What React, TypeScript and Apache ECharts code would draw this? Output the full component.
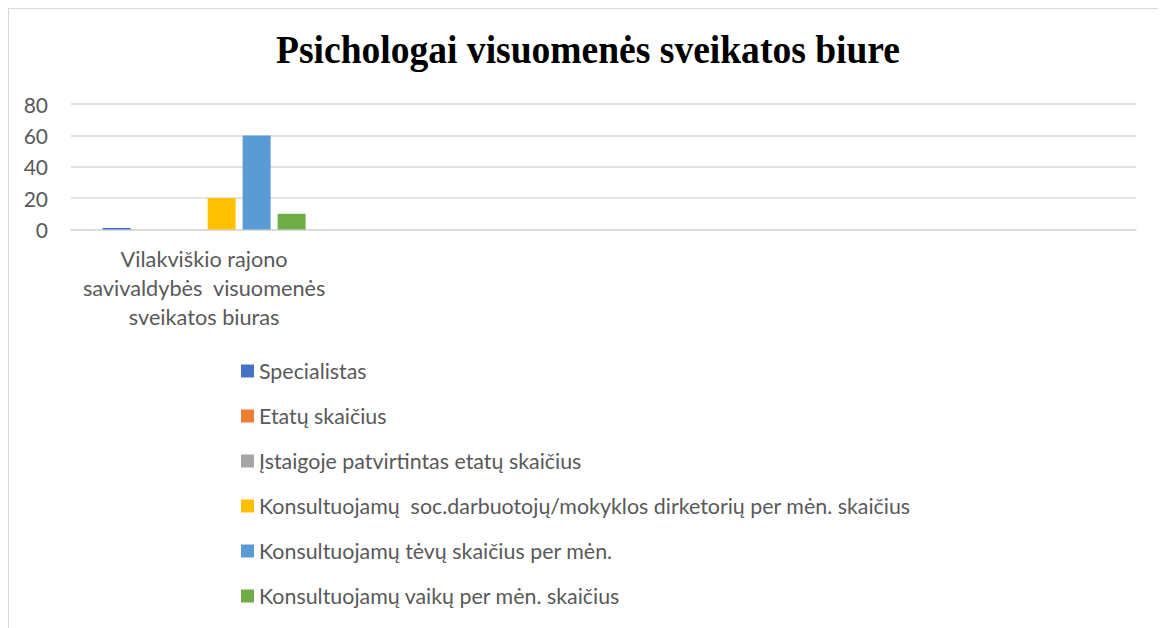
import React, { useEffect, useRef } from "react";
import * as echarts from "echarts";

const categories = [
  "Vilakviškio rajono\nsavivaldybės  visuomenės\nsveikatos biuras",
  "",
  "",
  "",
];
const seriesNames = [
  "Specialistas",
  "Etatų skaičius",
  "Įstaigoje patvirtintas etatų skaičius",
  "Konsultuojamų  soc.darbuotojų/mokyklos dirketorių per mėn. skaičius",
  "Konsultuojamų tėvų skaičius per mėn.",
  "Konsultuojamų vaikų per mėn. skaičius",
];
const seriesValues: (number | null)[][] = [
  [1, null, null, null],
  [0, null, null, null],
  [0, null, null, null],
  [20, null, null, null],
  [60, null, null, null],
  [10, null, null, null],
];
const colors = ["#4472C4", "#ED7D31", "#A5A5A5", "#FFC000", "#5B9BD5", "#70AD47"];
const yTicks = { min: 0, max: 80, interval: 20 };
const titleText = "Psichologai visuomenės sveikatos biure";

export default function App() {
  const ref = useRef<HTMLDivElement>(null);
  useEffect(() => {
    if (!ref.current) return;
    const chart = echarts.init(ref.current, null, { renderer: "svg" });
    const font = "Lato";
    const titleFont = "bold 39px 'Liberation Serif'";
    const cv = document.createElement("canvas").getContext("2d");
    let tw = 660;
    if (cv) {
      cv.font = titleFont;
      tw = cv.measureText(titleText).width;
    }
    const targetW = 624;
    chart.setOption({
      animation: false,
      color: colors,
      grid: { left: 62, right: 29, top: 95, bottom: 398.5, containLabel: false },
      graphic: [
        {
          type: "text",
          x: 579,
          y: 21,
          scaleX: targetW / tw,
          style: {
            text: titleText,
            font: titleFont,
            fill: "#000000",
            textAlign: "center",
          },
        },
      ],
      legend: {
        orient: "vertical",
        left: 227,
        top: 346,
        itemWidth: 13,
        itemHeight: 13,
        itemGap: 23,
        icon: "rect",
        data: seriesNames,
        textStyle: { color: "#595959", fontSize: 21.4, lineHeight: 22, fontFamily: font, padding: [0, 0, 0, 0] },
      },
      xAxis: {
        type: "category",
        data: categories,
        axisLine: { lineStyle: { color: "#d9d9d9", width: 1.5 } },
        axisTick: { show: false },
        axisLabel: {
          interval: 0,
          color: "#595959",
          fontSize: 21.7,
          lineHeight: 29,
          margin: 15,
          fontFamily: font,
        },
      },
      yAxis: {
        type: "value",
        min: yTicks.min,
        max: yTicks.max,
        interval: yTicks.interval,
        axisLine: { show: false },
        axisTick: { show: false },
        splitLine: { lineStyle: { color: "#d9d9d9", width: 1.5 } },
        axisLabel: { color: "#595959", fontSize: 21, margin: 23, fontFamily: font },
      },
      series: seriesNames.map((name, i) => ({
        name,
        type: "bar",
        data: seriesValues[i],
        barWidth: 28,
        barGap: "25%",
        itemStyle: { color: colors[i] },
      })),
    });
    return () => chart.dispose();
  }, []);
  return (
    <div
      ref={ref}
      style={{
        width: 1158,
        height: 620,
        boxSizing: "border-box",
        borderTop: "1px solid #d9d9d9",
        borderLeft: "1px solid #d9d9d9",
        borderRight: "1px solid #d9d9d9",
        background: "#fff",
      }}
    />
  );
}
